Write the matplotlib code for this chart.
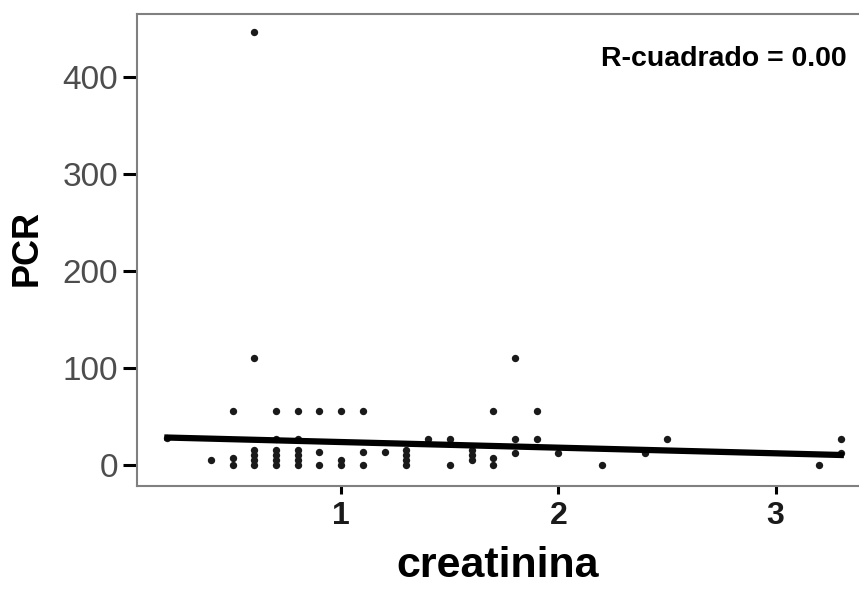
import matplotlib
matplotlib.use("Agg")
from matplotlib import pyplot as plt

plt.rcParams['font.family'] = ['Liberation Sans', 'DejaVu Sans']

# creatinina vs PCR
creatinina = [0.2, 0.4,
              0.5, 0.5, 0.5,
              0.6, 0.6, 0.6, 0.6, 0.6, 0.6,
              0.7, 0.7, 0.7, 0.7, 0.7, 0.7,
              0.8, 0.8, 0.8, 0.8, 0.8, 0.8,
              0.9, 0.9, 0.9,
              1.0, 1.0, 1.0,
              1.1, 1.1, 1.1,
              1.2,
              1.3, 1.3, 1.3, 1.3,
              1.4,
              1.5, 1.5,
              1.6, 1.6, 1.6,
              1.7, 1.7, 1.7,
              1.8, 1.8, 1.8,
              1.9, 1.9,
              2.0, 2.2, 2.4, 2.5,
              3.2, 3.3, 3.3]
pcr = [28, 5,
       55, 7, 0,
       446, 110, 15, 10, 5, 0,
       55, 27, 15, 10, 5, 0,
       55, 27, 15, 10, 5, 0,
       55, 13, 0,
       55, 5, 0,
       55, 13, 0,
       13,
       15, 10, 5, 0,
       27,
       27, 0,
       15, 10, 5,
       55, 7, 0,
       110, 27, 12,
       55, 27,
       12, 0, 12, 27,
       0, 27, 12]

# fitted line ends
fit_x = [0.2, 3.3]
fit_y = [28, 10]

y_ticks = [0, 100, 200, 300, 400]
x_ticks = [1, 2, 3]

fig = plt.figure(figsize=(8.59, 5.90), dpi=100)
ax = fig.add_axes([137 / 859, 1 - 486 / 590, 1 - 137 / 859 - 0.001, (486 - 14) / 590])

ax.scatter(creatinina, pcr, s=28, color='#1a1a1a', linewidths=0, zorder=3)
ax.plot(fit_x, fit_y, color='black', linewidth=4.5, zorder=4)

ax.set_xlim(0.06, 3.38)
ax.set_ylim(-22, 465)
ax.set_xticks(x_ticks)
ax.set_yticks(y_ticks)
ax.set_xticklabels([str(t) for t in x_ticks], fontsize=23, fontweight='bold', color='#1a1a1a')
ax.set_yticklabels([str(t) for t in y_ticks], fontsize=24, color='#4d4d4d')
ax.tick_params(axis='y', direction='out', length=10, width=2.2, color='black', pad=3.5)
ax.tick_params(axis='x', direction='out', length=5.5, width=2.2, color='black', pad=5)

for side in ['left', 'top', 'bottom']:
    ax.spines[side].set_color('#808080')
    ax.spines[side].set_linewidth(1.5)
ax.spines['right'].set_visible(False)

ax.set_xlabel("creatinina", fontsize=31, fontweight='bold', va='baseline')
ax.xaxis.set_label_coords(0.5, (486 - 577) / 472)
ax.set_ylabel("PCR", fontsize=26, fontweight='bold', va='center')
ax.yaxis.set_label_coords((27 - 137) / 722, (486 - 248) / 472)

ax.text(0.984, 0.905, "R-cuadrado = 0.00", transform=ax.transAxes,
        ha='right', va='center', fontsize=20.5, fontweight='bold')

plt.savefig('out.png', dpi=100)
